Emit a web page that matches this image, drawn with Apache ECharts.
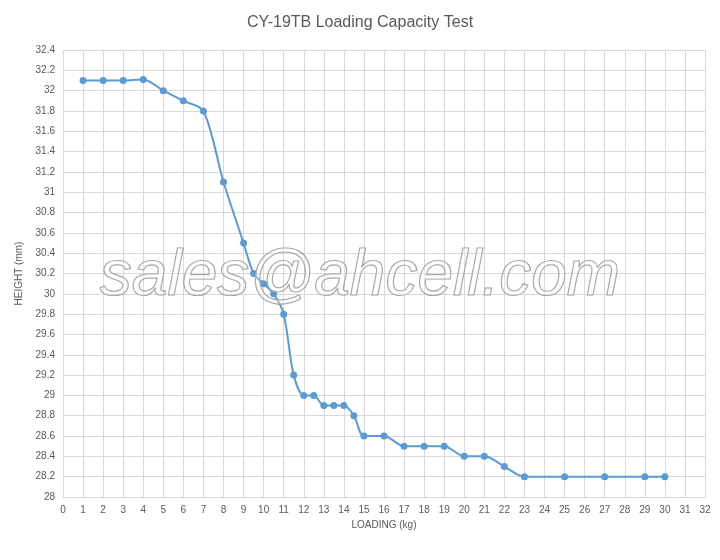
<!DOCTYPE html>
<html><head><meta charset="utf-8">
<script src="https://cdn.jsdelivr.net/npm/echarts@6/dist/echarts.min.js"></script>
<style>html,body{margin:0;padding:0;background:#fff}#c{width:720px;height:560px}</style>
</head><body><div id="c"></div>
<script>
const loading = [1,2,3,4,5,6,7,8,9,9.5,10,10.5,11,11.5,12,12.5,13,13.5,14,14.5,15,16,17,18,19,20,21,22,23,25,27,29,30];
const height = [32.1,32.1,32.1,32.11,32.0,31.9,31.8,31.1,30.5,30.2,30.1,30.0,29.8,29.2,29.0,29.0,28.9,28.9,28.9,28.8,28.6,28.6,28.5,28.5,28.5,28.4,28.4,28.3,28.2,28.2,28.2,28.2,28.2];
const chart = echarts.init(document.getElementById('c'));
const lab = {color:'#595959',fontSize:10,fontFamily:'Liberation Sans'};
chart.setOption({
  animation:false,
  title:{text:'CY-19TB Loading Capacity Test',left:'center',top:10,textStyle:{color:'#595959',fontSize:16,fontWeight:'normal',fontFamily:'Liberation Sans'}},
  grid:{left:63,right:15,top:50,bottom:63},
  xAxis:{type:'value',min:0,max:32,interval:1,name:'LOADING (kg)',nameLocation:'middle',nameGap:22,
    nameTextStyle:lab,axisLabel:lab,axisLine:{lineStyle:{color:'#d9d9d9'}},axisTick:{show:false},
    splitLine:{lineStyle:{color:'#d9d9d9'}}},
  yAxis:{type:'value',min:28,max:32.4,interval:0.2,name:'HEIGHT (mm)',nameLocation:'middle',nameGap:38,
    nameTextStyle:lab,axisLabel:Object.assign({formatter:v=>+v.toFixed(1)},lab),axisLine:{show:false},axisTick:{show:false},
    splitLine:{lineStyle:{color:'#d9d9d9'}}},
  series:[{type:'line',smooth:0.3,data:loading.map((x,i)=>[x,height[i]]),symbol:'circle',symbolSize:7,
    itemStyle:{color:'#5b9bd5'},lineStyle:{color:'#5b9bd5',width:2}}],
  graphic:[{type:'text',left:'center',top:245,z:100,style:{text:'sales@ahcell.com',fontSize:64,fontStyle:'italic',
    fontFamily:'Liberation Sans',fill:'rgba(255,255,255,0.3)',stroke:'#999',lineWidth:1.2}}]
});
</script></body></html>
